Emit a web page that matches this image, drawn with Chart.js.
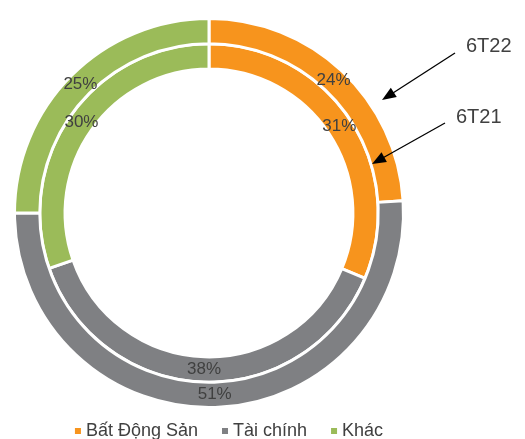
<!DOCTYPE html>
<html lang="vi">
<head>
<meta charset="utf-8">
<title>Cơ cấu danh mục 6T22 / 6T21</title>
<script src="https://cdn.jsdelivr.net/npm/chart.js@4/dist/chart.umd.min.js"></script>
<style>
  html, body { margin: 0; padding: 0; background: #fff; }
  #wrap { position: relative; width: 525px; height: 439px; }
</style>
</head>
<body>
<div id="wrap"><canvas id="mixChart"></canvas></div>
<script>
// Categories and shares (%) for each period
const categories = ['Bất Động Sản', 'Tài chính', 'Khác'];
const share6T22 = [24, 51, 25];
const share6T21 = [31, 38, 30];
const ringNames = ['6T22', '6T21'];
const colors = ['#F7941D', '#7F8083', '#9BBB59'];

const textColor = '#404040';
const fontFamily = '"Liberation Sans", Arial, sans-serif';

// Percent labels in the middle of every segment
const sliceLabels = {
  id: 'sliceLabels',
  afterDatasetsDraw(chart) {
    const ctx = chart.ctx;
    ctx.save();
    ctx.font = '17px ' + fontFamily;
    ctx.fillStyle = textColor;
    ctx.textAlign = 'center';
    ctx.textBaseline = 'middle';
    chart.data.datasets.forEach((ds, i) => {
      chart.getDatasetMeta(i).data.forEach((arc, j) => {
        const p = arc.tooltipPosition();
        ctx.fillText(ds.data[j] + '%', p.x, p.y);
      });
    });
    ctx.restore();
  }
};

// Ring names with arrows, plus the legend row at the bottom
const callouts = {
  id: 'callouts',
  afterDraw(chart) {
    const ctx = chart.ctx;
    ctx.save();

    const arrow = (x1, y1, x2, y2) => {
      const a = Math.atan2(y2 - y1, x2 - x1);
      const len = 14, half = 5.5;
      ctx.strokeStyle = '#000';
      ctx.lineWidth = 1.3;
      ctx.beginPath();
      ctx.moveTo(x1, y1);
      ctx.lineTo(x2 - Math.cos(a) * len * 0.8, y2 - Math.sin(a) * len * 0.8);
      ctx.stroke();
      ctx.fillStyle = '#000';
      ctx.beginPath();
      ctx.moveTo(x2, y2);
      ctx.lineTo(x2 - Math.cos(a) * len - Math.sin(a) * half, y2 - Math.sin(a) * len + Math.cos(a) * half);
      ctx.lineTo(x2 - Math.cos(a) * len + Math.sin(a) * half, y2 - Math.sin(a) * len - Math.cos(a) * half);
      ctx.closePath();
      ctx.fill();
    };

    ctx.font = '20px ' + fontFamily;
    ctx.fillStyle = textColor;
    ctx.textAlign = 'left';
    ctx.textBaseline = 'alphabetic';
    ctx.fillText(ringNames[0], 466, 52);
    ctx.fillText(ringNames[1], 456, 123);
    arrow(455, 53, 382, 100);
    arrow(445, 123, 372, 164);

    // legend
    ctx.font = '18px ' + fontFamily;
    const box = 6, gapText = 5, gapItem = 24;
    const widths = categories.map(c => box + gapText + ctx.measureText(c).width);
    const total = widths.reduce((s, w) => s + w, 0) + gapItem * (categories.length - 1);
    let x = 229 - total / 2;
    categories.forEach((c, i) => {
      ctx.fillStyle = colors[i];
      ctx.fillRect(x, 428, box, box);
      ctx.fillStyle = textColor;
      ctx.fillText(c, x + box + gapText, 436);
      x += widths[i] + gapItem;
    });
    ctx.restore();
  }
};

new Chart(document.getElementById('mixChart'), {
  type: 'doughnut',
  data: {
    labels: categories,
    datasets: [
      { label: ringNames[0], data: share6T22, backgroundColor: colors, borderColor: '#fff', borderWidth: 3, hoverOffset: 0 },
      { label: ringNames[1], data: share6T21, backgroundColor: colors, borderColor: '#fff', borderWidth: 3, hoverOffset: 0 }
    ]
  },
  options: {
    responsive: true,
    maintainAspectRatio: false,
    animation: false,
    cutout: '74%',
    layout: { padding: { left: 13, right: 120, top: 17, bottom: 30 } },
    plugins: {
      legend: { display: false },
      tooltip: { enabled: false }
    }
  },
  plugins: [sliceLabels, callouts]
});
</script>
</body>
</html>
